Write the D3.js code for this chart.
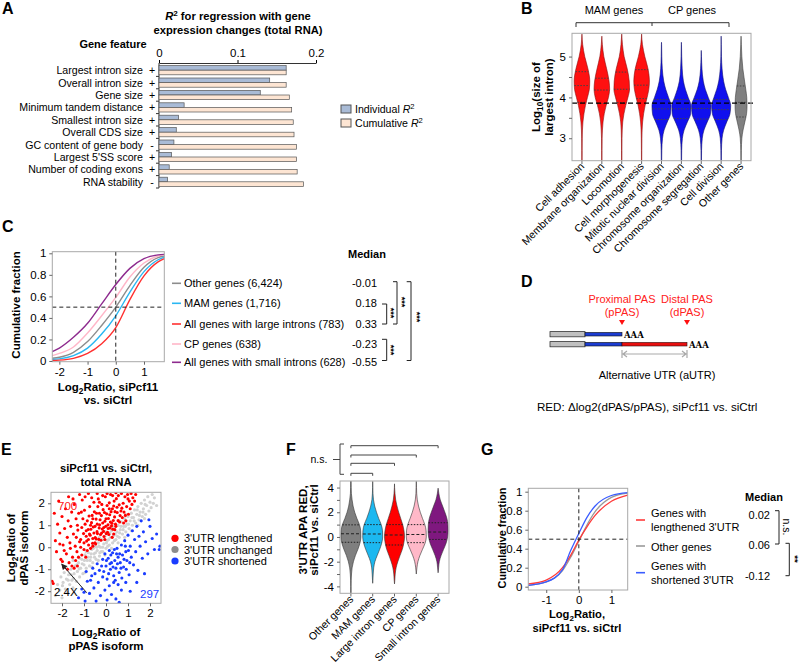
<!DOCTYPE html>
<html><head><meta charset="utf-8">
<script src="https://cdn.jsdelivr.net/npm/d3@7"></script>
<style>
body{margin:0;background:#fff;}
svg{font-family:"Liberation Sans",Arial,sans-serif;}
</style></head><body>
<svg id="fig" width="800" height="663"></svg>
<script>
// ================= DATA =================
// Panel A
const featA = ["Largest intron size","Overall intron size","Gene size","Minimum tandem distance","Smallest intron size","Overall CDS size","GC content of gene body","Largest 5'SS score","Number of coding exons","RNA stability"];
const signA = ["+","+","+","+","+","+","-","+","+","-"];
const indivA = [0.162,0.141,0.129,0.032,0.025,0.022,0.019,0.016,0.013,0.011];
const cumA = [0.162,0.162,0.166,0.169,0.171,0.172,0.175,0.175,0.176,0.184];
const ticksA = [0,0.1,0.2];

// Panel B
const catB = ["Cell adhesion","Membrane organization","Locomotion","Cell morphogenesis","Mitotic nuclear division","Chromosome organization","Chromosome segregation","Cell division","Other genes"];
const groupB = ["MAM","MAM","MAM","MAM","CP","CP","CP","CP","Other"];
const levelsB = [5.3,5.0,4.7,4.4,4.2,4.0,3.8,3.6,3.4,3.2,3.0,2.7,2.45];
const topB = [5.55,5.5,5.55,5.55,5.35,5.35,5.15,5.5,5.5];
const densB = [
 [0.07,0.28,0.6,0.78,0.74,0.55,0.35,0.2,0.1,0.05,0.03,0.02,0.015],
 [0.05,0.2,0.48,0.72,0.78,0.66,0.43,0.24,0.12,0.06,0.03,0.02,0.015],
 [0.07,0.24,0.55,0.75,0.78,0.62,0.4,0.22,0.1,0.05,0.03,0.02,0.015],
 [0.08,0.32,0.64,0.78,0.72,0.55,0.35,0.2,0.1,0.05,0.03,0.02,0.015],
 [0.01,0.03,0.08,0.22,0.42,0.7,0.95,0.9,0.58,0.26,0.1,0.03,0.02],
 [0.01,0.03,0.08,0.2,0.4,0.68,0.95,0.92,0.6,0.27,0.1,0.03,0.02],
 [0.0,0.02,0.07,0.2,0.4,0.7,0.97,0.92,0.6,0.27,0.1,0.03,0.02],
 [0.01,0.03,0.09,0.24,0.44,0.72,0.95,0.88,0.56,0.25,0.09,0.03,0.02],
 [0.03,0.08,0.18,0.35,0.47,0.57,0.6,0.55,0.38,0.2,0.08,0.03,0.02]
];
const quartB = [[3.88,4.29,4.63],[3.85,4.18,4.47],[3.87,4.2,4.62],[3.97,4.3,4.68],[3.46,3.72,3.95],[3.48,3.72,3.95],[3.47,3.73,3.95],[3.46,3.70,3.95],[3.52,3.88,4.28]];
const refB = 3.86;
const ticksB = [3,4,5];

// Panel C
const xGridC = [-2.25,-2,-1.5,-1,-0.5,0,0.5,1,1.5,1.72];
const seriesC = ["Other genes (6,424)","MAM genes (1,716)","All genes with large introns (783)","CP genes (638)","All genes with small introns (628)"];
const cdfC = [
 [0.025,0.035,0.08,0.18,0.33,0.5,0.7,0.87,0.96,0.975],
 [0.015,0.02,0.05,0.12,0.25,0.42,0.64,0.83,0.94,0.965],
 [0.005,0.008,0.025,0.07,0.16,0.31,0.57,0.79,0.92,0.95],
 [0.05,0.07,0.13,0.26,0.42,0.59,0.78,0.91,0.975,0.985],
 [0.087,0.12,0.22,0.35,0.53,0.71,0.86,0.95,0.985,0.99]
];
const medianC = ["-0.01","0.18","0.33","-0.23","-0.55"];
const ticksCx = [-2,-1,0,1];
const ticksCy = [0,0.2,0.4,0.6,0.8,1];

// Panel E
const ePtsGray = [[-2.3,-2.2],[-2.2,-1.7],[-2.1,-1.95],[-2.05,-1.35],[-2.0,-2.3],[-1.95,-1.6],[-1.9,-1.15],[-1.85,-1.9],[-1.8,-1.45],[-1.75,-2.05],[-1.7,-1.25],[-1.65,-1.7],[-1.6,-1.0],[-1.55,-1.5],[-1.5,-1.85],[-1.45,-1.2],[-1.4,-0.85],[-1.35,-1.55],[-1.3,-1.1],[-1.25,-0.7],[-1.2,-1.35],[-1.15,-0.95],[-1.1,-0.55],[-1.05,-1.2],[-1.0,-0.8],[-0.95,-0.35],[-0.9,-0.95],[-0.85,-0.6],[-0.8,-0.25],[-0.75,-0.85],[-0.7,-0.45],[-0.65,-0.1],[-0.6,-0.7],[-0.55,-0.3],[-0.5,0.05],[-0.45,-0.55],[-0.4,-0.15],[-0.35,0.2],[-0.3,-0.4],[-0.25,0.0],[-0.2,0.35],[-0.15,-0.2],[-0.1,0.15],[-0.05,0.5],[0.0,-0.05],[0.05,0.3],[0.1,0.6],[0.15,0.1],[0.2,0.45],[0.25,0.75],[0.3,0.2],[0.35,0.55],[0.4,0.9],[0.45,0.35],[0.5,0.7],[0.55,1.0],[0.6,0.45],[0.65,0.8],[0.7,1.15],[0.75,0.6],[0.8,0.95],[0.85,1.3],[0.9,0.7],[0.95,1.05],[1.0,1.4],[1.05,0.85],[1.1,1.2],[1.15,1.55],[1.2,1.0],[1.25,1.35],[1.3,1.7],[1.35,1.1],[1.4,1.5],[1.45,1.85],[1.5,1.25],[1.55,1.6],[1.6,2.0],[1.65,1.4],[1.7,1.75],[1.75,2.15],[1.8,1.5],[1.85,1.9],[1.9,2.3],[1.95,1.65],[2.0,2.05],[2.05,1.8],[2.1,2.4],[2.15,2.0],[2.2,2.25],[2.3,1.9],
 [-1.98,-1.75],[-1.72,-1.5],[-1.48,-1.42],[-1.22,-0.98],[-0.98,-0.6],[-0.72,-0.6],[-0.48,-0.25],[-0.22,-0.2],[0.02,0.2],[0.28,0.45],[0.52,0.5],[0.78,0.8],[1.02,1.05],[1.28,1.2],[1.52,1.45],[1.78,1.95],[-1.58,-1.25],[-1.32,-0.8],[-1.08,-0.75],[-0.82,-0.45],[-0.58,-0.05],[-0.32,0.05],[-0.08,0.35],[0.18,0.65],[0.42,0.6],[0.68,0.95],[0.92,1.2],[1.18,1.35],[1.42,1.7],[1.68,1.6],[-0.9,-0.2],[-0.6,0.15],[-0.3,0.45],[0.0,0.7],[0.3,0.95],[0.6,1.2],[0.9,1.5],[-1.2,-0.5],[-0.95,-1.15],[-0.65,-0.9],[-0.35,-0.6],[-0.05,-0.35],[0.25,-0.05],[0.55,0.2],[0.85,0.45],[1.15,0.75],[1.45,1.0],[1.75,1.3],[-1.8,-0.9],[-1.5,-0.6],[-0.15,0.0],[0.12,0.35],[0.38,0.3],[0.62,0.65],[0.88,0.95],[-0.42,0.0],[-0.68,-0.3],[-0.28,-0.25],[0.08,0.05],[-0.52,-0.45]];
const ePtsRed = [[-1.15,0.35],[-1.02,0.62],[-0.95,1.05],[-0.88,0.28],[-0.81,0.81],[-0.77,1.42],[-0.72,0.55],[-0.66,1.12],[-0.61,0.18],[-0.58,0.92],[-0.53,1.61],[-0.49,0.44],[-0.45,1.28],[-0.41,0.71],[-0.37,1.85],[-0.33,0.36],[-0.29,1.02],[-0.25,0.58],[-0.21,1.44],[-0.17,0.83],[-0.13,1.71],[-0.09,0.49],[-0.05,1.18],[-0.01,0.95],[0.03,1.52],[0.07,0.68],[0.11,1.31],[0.15,2.02],[0.19,0.88],[0.23,1.62],[0.27,1.09],[0.31,0.82],[0.35,1.88],[0.39,1.38],[0.43,1.05],[0.47,2.21],[0.51,1.58],[0.55,1.21],[0.6,1.93],[0.64,1.44],
 [-1.1,0.9],[-1.05,1.3],[-0.98,1.68],[-0.9,0.5],[-0.85,1.2],[-0.79,0.1],[-0.74,1.85],[-0.69,0.82],[-0.63,1.45],[-0.6,0.4],[-0.55,2.05],[-0.5,0.95],[-0.47,0.15],[-0.43,1.55],[-0.39,0.62],[-0.35,2.2],[-0.31,0.88],[-0.27,1.25],[-0.23,0.32],[-0.19,1.95],[-0.15,1.1],[-0.11,0.72],[-0.07,1.58],[-0.03,2.3],[0.01,0.62],[0.05,1.9],[0.09,1.02],[0.13,0.58],[0.17,1.48],[0.21,2.4],[0.25,0.98],[0.29,1.75],[0.33,1.22],[0.37,2.1],[0.41,1.62],[0.45,0.95],[0.5,1.82],[0.56,2.35],[0.62,1.15],[0.68,1.65],
 [-2.35,1.55],[-2.3,0.3],[-2.25,-0.2],[-2.2,1.05],[-2.15,2.1],[-2.1,0.65],[-2.05,-0.55],[-2.0,1.4],[-1.95,0.1],[-1.92,-0.9],[-1.88,0.85],[-1.84,1.75],[-1.8,-0.3],[-1.76,0.45],[-1.72,1.2],[-1.68,-0.7],[-1.64,0.2],[-1.6,0.95],[-1.56,1.6],[-1.52,-0.45],[-1.48,0.6],[-1.44,1.95],[-1.4,0.05],[-1.36,1.3],[-1.32,-0.2],[-1.28,0.78],[-1.24,1.55],[-1.2,0.25],[-1.7,2.3],[-1.5,2.2],[-2.45,-1.55],[-2.4,-1.65],[-1.98,-0.65],[-1.62,-0.05],[-1.35,0.45],[-1.3,1.0],[-1.25,-0.45],[-1.15,0.0],[-1.12,1.6],[-1.08,2.15],
 [0.7,2.45],[0.74,1.35],[0.78,2.0],[0.82,1.6],[0.86,2.3],[0.9,1.2],[0.94,1.85],[0.98,2.4],[1.02,1.5],[1.06,2.1],[1.1,1.75],[1.14,2.45],[1.18,1.95],[1.22,2.25],[1.3,2.1],[1.35,2.4],[0.88,1.45],[0.72,1.78],[1.0,2.2],[0.8,1.1],
 [-0.95,2.3],[-0.8,2.45],[-0.65,2.25],[-0.4,2.45],[-0.15,2.35],[0.05,2.45],[0.3,2.35],[0.45,2.48],[-1.2,2.4],[-0.3,2.05],
 [-1.55,-0.85],[-1.45,-0.95],[-1.38,-0.6],[-1.1,-0.35],[-1.0,-0.1],[-0.92,-0.45],[-0.85,-0.15],[-0.7,-0.05],[-0.6,0.05],[-0.5,0.2],[-1.3,-0.85],[-1.75,-1.0],[-1.9,-0.15],[-2.1,0.15],
 [-0.9,0.75],[-0.7,1.0],[-0.55,0.65],[-0.4,1.05],[-0.2,0.65],[-0.1,0.9],[0.0,1.3],[0.1,0.85],[0.2,1.15],[0.35,0.6],[-0.6,1.3],[-0.3,1.55],[0.15,1.75],[-0.8,0.35],[-0.45,0.38],[-0.05,0.35],[0.28,0.45],[0.4,0.8],[-1.0,0.2],[-0.75,0.6]];
const ePtsBlue = [[-0.15,-0.55],[-0.1,-1.1],[-0.05,-0.3],[0.0,-0.85],[0.05,-1.45],[0.1,-0.5],[0.15,-0.15],[0.2,-1.0],[0.25,-0.7],[0.3,-0.25],[0.35,-1.3],[0.4,-0.6],[0.45,-0.95],[0.5,-0.05],[0.55,-0.45],[0.6,-1.15],[0.65,-0.7],[0.7,0.1],[0.75,-0.35],[0.8,-0.9],[0.85,0.3],[0.9,-0.2],[0.95,-0.6],[1.0,0.55],[1.05,-1.25],[1.1,0.05],[1.15,-0.45],[1.2,0.75],[1.25,-0.8],[1.3,0.35],
 [1.35,-0.2],[1.4,0.95],[1.45,-1.05],[1.5,0.5],[1.55,0.05],[1.6,1.2],[1.65,-0.5],[1.7,0.7],[1.8,0.25],[1.9,-0.3],[2.0,0.95],[2.1,0.4],[2.2,-0.1],[2.45,0.05],[2.42,-0.1],[1.75,-1.2],[1.95,1.25],[2.3,0.6],
 [-1.25,-2.3],[-1.1,-1.9],[-0.95,-2.45],[-0.85,-1.55],[-0.75,-2.1],[-0.65,-1.3],[-0.55,-1.85],[-0.45,-2.45],[-0.35,-1.6],[-0.25,-2.2],[-0.15,-1.35],[-0.05,-1.95],[0.05,-2.4],[0.15,-1.75],[0.25,-2.15],[0.35,-1.6],[0.45,-2.35],[0.55,-1.7],[0.7,-1.95],[0.9,-1.6],[1.1,-2.0],[1.4,-1.6],[-1.0,-2.05],[0.6,-2.5],
 [-0.6,-0.95],[-0.5,-1.2],[-0.4,-0.75],[-0.3,-1.05],[-0.2,-0.85],[0.02,-0.6],[0.12,-1.2],[0.22,-0.35],[0.32,-0.9],[0.42,-1.5],[0.52,-0.75],[0.62,-0.3],[0.72,-1.4],[0.82,-0.55],[0.92,-1.0],[1.02,-0.15],[0.38,-0.1],[0.18,-0.75],[0.68,-0.95],[0.48,-0.3],[1.08,-0.7],[0.88,0.05],[-0.7,-1.5],[-0.9,-1.1]];
const ticksE = [-2,-1,0,1,2];
const legendE = ["3'UTR lengthened","3'UTR unchanged","3'UTR shortened"];

// Panel F
const catF = ["Other genes","MAM genes","Large intron genes","CP genes","Small intron genes"];
const levelsF = [4.5,4,3.5,3,2.5,2,1.5,1,0.5,0,-0.5,-1,-1.5,-2,-2.5,-3,-3.5,-4,-4.5];
const extentF = [[-4.56,4.53],[-3.75,4.5],[-3.8,4.3],[-3.0,4.5],[-2.9,3.95]];
const densF = [
 [0.02,0.03,0.05,0.12,0.22,0.38,0.6,0.85,0.98,1.0,0.9,0.7,0.45,0.25,0.12,0.06,0.03,0.02,0.02],
 [0.01,0.01,0.03,0.08,0.2,0.38,0.6,0.85,0.98,1.0,0.9,0.7,0.45,0.22,0.1,0.05,0.02,0.01,0],
 [0,0.01,0.05,0.12,0.25,0.42,0.62,0.82,0.95,1.0,0.93,0.78,0.55,0.33,0.16,0.07,0.03,0.01,0],
 [0.01,0.02,0.04,0.1,0.22,0.4,0.62,0.85,0.98,1.0,0.88,0.62,0.36,0.16,0.06,0.02,0,0,0],
 [0,0.02,0.08,0.22,0.45,0.68,0.88,0.98,1.0,0.95,0.8,0.55,0.3,0.12,0.05,0.02,0,0,0]
];
const quartF = [[-0.43,0.26,0.98],[-0.46,0.24,1.0],[-0.65,0.16,1.0],[-0.46,0.2,1.0],[-0.2,0.4,1.15]];
const ticksF = [-4,-2,0,2,4];

// Panel G
const xGridG = [-1.55,-1,-0.5,-0.25,0,0.25,0.5,1,1.5];
const seriesG = [["Genes with","lengthened 3'UTR"],["Other genes"],["Genes with","shortened 3'UTR"]];
const cdfG = [
 [0.03,0.07,0.2,0.33,0.49,0.63,0.75,0.9,0.965],
 [0.015,0.05,0.17,0.31,0.48,0.65,0.79,0.94,0.985],
 [0.015,0.05,0.18,0.38,0.56,0.73,0.85,0.96,0.99]
];
const medianG = ["0.02","0.06","-0.12"];
const ticksGx = [-1,0,1];
const ticksGy = [0,0.2,0.4,0.6,0.8,1];

// ================= DRAWING =================
const svg = d3.select("#fig");
const FRAME = "#a8a8a8";
const fmt = d => String(d);

function rich(g, x, y, parts, attrs){
  const t = g.append("text").attr("x",x).attr("y",y);
  for (const k in (attrs||{})) t.attr(k, attrs[k]);
  let shift = 0;
  parts.forEach(p=>{
    const [s, st] = Array.isArray(p)?p:[p,null];
    const ts = t.append("tspan").text(s);
    const target = st==="sub"?3:(st==="sup"?-4.5:0);
    if (target!==shift){ ts.attr("dy", target-shift); shift = target; }
    if (st==="sub"||st==="sup") ts.attr("font-size","0.72em");
    if (st==="it") ts.attr("font-style","italic");
  });
  return t;
}
function label(t,x,y){ svg.append("text").attr("x",x).attr("y",y).attr("font-size",16).attr("font-weight","bold").text(t); }
function styleAxis(g, fs){
  g.attr("font-family",null).attr("font-size",null);
  g.selectAll(".domain").remove();
  g.selectAll(".tick line").attr("stroke","#666");
  g.selectAll("text").attr("fill","#000").attr("font-size",fs||11.5);
}
function frame(g,x0,y0,x1,y1){ g.append("rect").attr("x",x0).attr("y",y0).attr("width",x1-x0).attr("height",y1-y0).attr("fill","none").attr("stroke",FRAME); }
function interp(levels, dens, v){
  for (let i=0;i<levels.length-1;i++){
    const a=levels[i], b=levels[i+1];
    if ((v<=a && v>=b) || (v>=a && v<=b)){ const t=(v-a)/(b-a); return dens[i]+(dens[i+1]-dens[i])*t; }
  }
  return 0;
}

// ---------- Panel A ----------
label("A",2,14);
const gA = svg.append("g").attr("font-size",10.6);
const xA = d3.scaleLinear().domain([0,0.2]).range([159,316]);
const yA = d3.scaleBand().domain(featA).range([64,188]);
rich(gA,238,20,[["R","it"],["2","sup"]," for regression with gene"],{"text-anchor":"middle","font-weight":"bold","font-size":11.2});
gA.append("text").attr("x",238).attr("y",34).attr("text-anchor","middle").attr("font-weight","bold").attr("font-size",11.2).text("expression changes (total RNA)");
gA.append("text").attr("x",113).attr("y",48).attr("text-anchor","middle").attr("font-weight","bold").attr("font-size",11).text("Gene feature");
const axA = gA.append("g").attr("transform","translate(0,63)").call(d3.axisTop(xA).tickValues(ticksA).tickFormat(d=>d===0?"0":d3.format(".1f")(d)).tickSize(3).tickSizeOuter(0));
axA.attr("font-family",null).attr("font-size",null);
axA.selectAll(".domain").attr("stroke","#333"); axA.selectAll("text").attr("font-size",11.5).attr("fill","#000");
gA.append("line").attr("x1",159).attr("x2",159).attr("y1",63).attr("y2",188).attr("stroke","#333");
featA.forEach((f,i)=>{
  const c = yA(f)+yA.bandwidth()/2;
  gA.append("line").attr("x1",156).attr("x2",159).attr("y1",yA(f)+yA.bandwidth()).attr("y2",yA(f)+yA.bandwidth()).attr("stroke","#333");
  gA.append("rect").attr("x",xA(0)).attr("y",c-4.6).attr("width",xA(indivA[i])-xA(0)).attr("height",4.6).attr("fill","#a9bbd6").attr("stroke","#555").attr("stroke-width",0.7);
  gA.append("rect").attr("x",xA(0)).attr("y",c).attr("width",xA(cumA[i])-xA(0)).attr("height",4.6).attr("fill","#fde5d3").attr("stroke","#555").attr("stroke-width",0.7);
  gA.append("text").attr("x",143).attr("y",c+4).attr("text-anchor","end").text(f);
  gA.append("text").attr("x",152).attr("y",c+4).attr("text-anchor","middle").text(signA[i]);
});
gA.append("rect").attr("x",341).attr("y",105).attr("width",10).attr("height",8).attr("fill","#a9bbd6").attr("stroke","#555");
gA.append("rect").attr("x",341).attr("y",119).attr("width",10).attr("height",8).attr("fill","#fde5d3").attr("stroke","#555");
rich(gA,355,113,["Individual ",["R","it"],["2","sup"]],{});
rich(gA,355,127,["Cumulative ",["R","it"],["2","sup"]],{});

// ---------- Panel B ----------
label("B",521,14);
const gB = svg.append("g").attr("font-size",11.5);
const xB = d3.scaleBand().domain(catB).range([572,751]);
const yB = d3.scaleLinear().domain([2.45,5.57]).range([160.7,33.3]);
const wB = d3.scaleLinear().domain([0,1]).range([0,10]);
const colB = {MAM:"#ff1010",CP:"#1010ee",Other:"#808080"};
const edgeB = {MAM:"#8a1010",CP:"#101070",Other:"#404040"};
gB.append("defs").append("clipPath").attr("id","clipB").append("rect").attr("x",572).attr("y",33.3).attr("width",179).attr("height",127.4);
const vB = gB.append("g").attr("clip-path","url(#clipB)");
catB.forEach((c,i)=>{
  const cx = xB(c)+xB.bandwidth()/2;
  const pts = [{v:topB[i],d:0}].concat(levelsB.map((l,j)=>({v:l,d:densB[i][j]})).filter(p=>p.v<topB[i]));
  const area = d3.area().y(d=>yB(d.v)).x0(d=>cx-wB(d.d)).x1(d=>cx+wB(d.d)).curve(d3.curveMonotoneY);
  vB.append("path").attr("d",area(pts)).attr("fill",colB[groupB[i]]).attr("stroke",edgeB[groupB[i]]).attr("stroke-width",0.6);
  quartB[i].forEach(q=>{
    const w = wB(interp(pts.map(p=>p.v), pts.map(p=>p.d), q));
    vB.append("line").attr("x1",cx-w).attr("x2",cx+w).attr("y1",yB(q)).attr("y2",yB(q)).attr("stroke","#444").attr("stroke-width",1).attr("stroke-dasharray","1.5,1.5");
  });
  gB.append("line").attr("x1",cx).attr("x2",cx).attr("y1",160.7).attr("y2",164).attr("stroke","#666");
  gB.append("text").attr("transform",`translate(${cx+3},${167}) rotate(-45)`).attr("text-anchor","end").attr("font-size",10.6).text(c);
});
gB.append("line").attr("x1",572).attr("x2",753).attr("y1",yB(refB)).attr("y2",yB(refB)).attr("stroke","#000").attr("stroke-width",1.3).attr("stroke-dasharray","5,3");
frame(gB,572,33.3,751,160.7);
const axB = gB.append("g").attr("transform","translate(572,0)").call(d3.axisLeft(yB).tickValues([3,3.5,4,4.5,5]).tickFormat(d=>ticksB.includes(d)?d:"").tickSize(3).tickSizeOuter(0));
styleAxis(axB, 11.5);
rich(gB,0,0,["Log",["10","sub"],"(size of"],{"transform":"translate(540,97) rotate(-90)","text-anchor":"middle","font-weight":"bold","font-size":11.5});
gB.append("text").attr("transform","translate(553,97) rotate(-90)").attr("text-anchor","middle").attr("font-weight","bold").attr("font-size",11.5).text("largest intron)");
gB.append("path").attr("d","M576,27 V22.7 H729 V27 M652,22.7 V26").attr("fill","none").attr("stroke","#333");
gB.append("text").attr("x",614).attr("y",14).attr("text-anchor","middle").attr("font-size",11).text("MAM genes");
gB.append("text").attr("x",692).attr("y",14).attr("text-anchor","middle").attr("font-size",11).text("CP genes");

// ---------- Panel C ----------
label("C",2,232);
const gC = svg.append("g").attr("font-size",11);
const xC = d3.scaleLinear().domain([-2.25,1.72]).range([52.3,164.3]);
const yC = d3.scaleLinear().domain([0,1]).range([361,253.3]);
const colC = ["#8c8c8c","#2ab7f2","#ff3030","#ffb6c8","#8e2a8e"];
const lineC = d3.line().x((d,i)=>xC(xGridC[i])).y(d=>yC(d)).curve(d3.curveMonotoneX);
cdfC.forEach((s,i)=> gC.append("path").attr("d",lineC(s)).attr("fill","none").attr("stroke",colC[i]).attr("stroke-width",1.4));
gC.append("line").attr("x1",xC(0)).attr("x2",xC(0)).attr("y1",251.7).attr("y2",361.7).attr("stroke","#222").attr("stroke-dasharray","4,3");
gC.append("line").attr("x1",52.3).attr("x2",164.3).attr("y1",yC(0.5)).attr("y2",yC(0.5)).attr("stroke","#222").attr("stroke-dasharray","4,3");
frame(gC,52.3,251.7,164.3,361.7);
const axCx = gC.append("g").attr("transform","translate(0,361.7)").call(d3.axisBottom(xC).tickValues(ticksCx).tickFormat(fmt).tickSize(3).tickSizeOuter(0));
styleAxis(axCx, 11.5);
const axCy = gC.append("g").attr("transform","translate(52.3,0)").call(d3.axisLeft(yC).tickValues(ticksCy).tickFormat(fmt).tickSize(3).tickSizeOuter(0));
styleAxis(axCy, 11.5);
gC.append("text").attr("transform","translate(20,305) rotate(-90)").attr("text-anchor","middle").attr("font-weight","bold").attr("font-size",11.5).text("Cumulative fraction");
rich(gC,108,391,["Log",["2","sub"],"Ratio, siPcf11"],{"text-anchor":"middle","font-weight":"bold","font-size":11.5});
gC.append("text").attr("x",108).attr("y",404).attr("text-anchor","middle").attr("font-weight","bold").attr("font-size",11.5).text("vs. siCtrl");
const legYC = [283.3,303.3,324,344,362.3];
seriesC.forEach((s,i)=>{
  gC.append("line").attr("x1",172).attr("x2",181).attr("y1",legYC[i]).attr("y2",legYC[i]).attr("stroke",colC[i]).attr("stroke-width",1.6);
  gC.append("text").attr("x",184).attr("y",legYC[i]+4).text(s);
  gC.append("text").attr("x",377).attr("y",legYC[i]+4).attr("text-anchor","end").text(medianC[i]);
});
gC.append("text").attr("x",367).attr("y",258).attr("text-anchor","middle").attr("font-weight","bold").attr("font-size",11).text("Median");
const brC = gC.append("g").attr("fill","none").attr("stroke","#222").attr("stroke-width",1);
brC.append("path").attr("d","M382,304 H386.7 V324 H382");
brC.append("path").attr("d","M393,281.7 H397 V324 H393");
brC.append("path").attr("d","M406.7,281.7 H411 V360.5 H406.7");
brC.append("path").attr("d","M382,339.3 H386.7 V360.5 H382");
[[390,313],[401.5,302],[416.5,317],[390,350]].forEach(([x,y])=>{
  gC.append("text").attr("transform",`translate(${x-2.5},${y}) rotate(90)`).attr("text-anchor","middle").attr("font-size",9).attr("font-weight","bold").text("***");
});

// ---------- Panel D ----------
label("D",521,287);
const gD = svg.append("g").attr("font-size",11);
gD.append("text").attr("x",622).attr("y",303).attr("text-anchor","middle").attr("fill","#ff2020").text("Proximal PAS");
gD.append("text").attr("x",622).attr("y",316).attr("text-anchor","middle").attr("fill","#ff2020").text("(pPAS)");
gD.append("text").attr("x",687).attr("y",303).attr("text-anchor","middle").attr("fill","#ff2020").text("Distal PAS");
gD.append("text").attr("x",687).attr("y",316).attr("text-anchor","middle").attr("fill","#ff2020").text("(dPAS)");
[622,687].forEach(x=> gD.append("path").attr("d",`M${x-3},320 L${x+3},320 L${x},325 Z`).attr("fill","#ff1010"));
[334.2,344.2].forEach((cy,r)=>{
  gD.append("rect").attr("x",550).attr("y",cy-2.6).attr("width",35).attr("height",5.2).attr("fill","#c0c0c0").attr("stroke","#333").attr("stroke-width",0.8);
  gD.append("rect").attr("x",585).attr("y",cy-1.8).attr("width",37).attr("height",3.6).attr("fill","#1c3cd0").attr("stroke","#111").attr("stroke-width",0.6);
  if (r===1) gD.append("rect").attr("x",622).attr("y",cy-1.8).attr("width",65).attr("height",3.6).attr("fill","#e81010").attr("stroke","#311").attr("stroke-width",0.6);
  gD.append("text").attr("x",r===0?624:689).attr("y",cy+3.5).attr("font-family","DejaVu Serif, serif").attr("font-weight","bold").attr("font-size",8.5).text("AAA");
});
gD.append("path").attr("d","M622,350 V358 M687,350 V358 M623,354 H686 M627,351 L623,354 L627,357 M682,351 L686,354 L682,357").attr("fill","none").attr("stroke","#aaa").attr("stroke-width",1.2);
gD.append("text").attr("x",657).attr("y",379).attr("text-anchor","middle").text("Alternative UTR (aUTR)");
gD.append("text").attr("x",537).attr("y",411).attr("font-size",11.6).text("RED: \u0394log2(dPAS/pPAS), siPcf11 vs. siCtrl");

// ---------- Panel E ----------
label("E",1,455);
const gE = svg.append("g").attr("font-size",11.5);
const xE = d3.scaleLinear().domain([-2.5,2.5]).range([51,161]);
const yE = d3.scaleLinear().domain([-2.55,2.5]).range([603.3,492.3]);
gE.append("defs").append("clipPath").attr("id","clipE").append("rect").attr("x",51).attr("y",492.3).attr("width",110).attr("height",111);
const pE = gE.append("g").attr("clip-path","url(#clipE)");
pE.selectAll(".g").data(ePtsGray).join("circle").attr("cx",d=>xE(d[0])).attr("cy",d=>yE(d[1])).attr("r",1.6).attr("fill","#d2d2d2");
pE.selectAll(".r").data(ePtsRed).join("circle").attr("cx",d=>xE(d[0])).attr("cy",d=>yE(d[1])).attr("r",1.55).attr("fill","#ff0000");
pE.selectAll(".b").data(ePtsBlue).join("circle").attr("cx",d=>xE(d[0])).attr("cy",d=>yE(d[1])).attr("r",1.55).attr("fill","#1a3cff");
frame(gE,51,492.3,161,603.3);
const axEx = gE.append("g").attr("transform","translate(0,603.3)").call(d3.axisBottom(xE).tickValues(ticksE).tickFormat(fmt).tickSize(3).tickSizeOuter(0));
styleAxis(axEx, 11.5);
const axEy = gE.append("g").attr("transform","translate(51,0)").call(d3.axisLeft(yE).tickValues(ticksE).tickFormat(fmt).tickSize(3).tickSizeOuter(0));
styleAxis(axEy, 11.5);
gE.append("text").attr("x",106).attr("y",472).attr("text-anchor","middle").attr("font-weight","bold").attr("font-size",11.2).text("siPcf11 vs. siCtrl,");
gE.append("text").attr("x",106).attr("y",486).attr("text-anchor","middle").attr("font-weight","bold").attr("font-size",11.2).text("total RNA");
gE.append("text").attr("x",58).attr("y",510).attr("fill","#ff2020").text("700");
gE.append("text").attr("x",140).attr("y",598).attr("fill","#1a3cff").text("297");
gE.append("defs").append("marker").attr("id","arrE").attr("viewBox","0 0 10 10").attr("refX",8).attr("refY",5).attr("markerWidth",6).attr("markerHeight",6).attr("orient","auto").append("path").attr("d","M0,0 L10,5 L0,10 Z").attr("fill","#222");
gE.append("line").attr("x1",86.7).attr("y1",592.7).attr("x2",62).attr("y2",564.5).attr("stroke","#222").attr("stroke-width",1).attr("marker-end","url(#arrE)");
gE.append("text").attr("x",54).attr("y",596).text("2.4X");
rich(gE,0,0,["Log",["2","sub"],"Ratio of"],{"transform":"translate(15,548) rotate(-90)","text-anchor":"middle","font-weight":"bold","font-size":11.5});
gE.append("text").attr("transform","translate(28,548) rotate(-90)").attr("text-anchor","middle").attr("font-weight","bold").attr("font-size",11.5).text("dPAS isoform");
rich(gE,106,636,["Log",["2","sub"],"Ratio of"],{"text-anchor":"middle","font-weight":"bold","font-size":11.5});
gE.append("text").attr("x",106).attr("y",650).attr("text-anchor","middle").attr("font-weight","bold").attr("font-size",11.5).text("pPAS isoform");
const colE = ["#ff0000","#8c8c8c","#1a3cff"];
[538.3,549.5,561].forEach((y,i)=>{
  gE.append("circle").attr("cx",175).attr("cy",y).attr("r",3.6).attr("fill",colE[i]);
  gE.append("text").attr("x",184).attr("y",y+4).attr("font-size",11).text(legendE[i]);
});

// ---------- Panel F ----------
label("F",286,455);
const gF = svg.append("g").attr("font-size",11.5);
const xF = d3.scaleBand().domain(catF).range([340,449]);
const yF = d3.scaleLinear().domain([-4.56,4.53]).range([593.3,481]);
const wF = d3.scaleLinear().domain([0,1]).range([0,10]);
const colF = ["#7f7f7f","#1cb8f0","#ff0000","#ffb8c8","#7f187f"];
gF.append("defs").append("clipPath").attr("id","clipF").append("rect").attr("x",340).attr("y",481).attr("width",109).attr("height",112.3);
const vF = gF.append("g").attr("clip-path","url(#clipF)");
catF.forEach((c,i)=>{
  const cx = xF(c)+xF.bandwidth()/2;
  const [lo,hi] = extentF[i];
  const pts = [{v:hi,d:0}].concat(levelsF.map((l,j)=>({v:l,d:densF[i][j]})).filter(p=>p.v<hi && p.v>lo)).concat([{v:lo,d:0}]);
  const area = d3.area().y(d=>yF(d.v)).x0(d=>cx-wF(d.d)).x1(d=>cx+wF(d.d)).curve(d3.curveMonotoneY);
  vF.append("path").attr("d",area(pts)).attr("fill",colF[i]).attr("stroke","#333").attr("stroke-width",0.6);
  quartF[i].forEach((q,k)=>{
    const w = wF(interp(levelsF,densF[i],q));
    vF.append("line").attr("x1",cx-w).attr("x2",cx+w).attr("y1",yF(q)).attr("y2",yF(q)).attr("stroke","#222").attr("stroke-width",1).attr("stroke-dasharray",k===1?"3,2":"1.5,1.5");
  });
  gF.append("line").attr("x1",cx).attr("x2",cx).attr("y1",593.3).attr("y2",596.5).attr("stroke","#666");
  gF.append("text").attr("transform",`translate(${cx+3},${600}) rotate(-45)`).attr("text-anchor","end").attr("font-size",10.6).text(c);
});
frame(gF,340,481,449,593.3);
const axF = gF.append("g").attr("transform","translate(340,0)").call(d3.axisLeft(yF).tickValues([-4,-3,-2,-1,0,1,2,3,4]).tickFormat(d=>ticksF.includes(d)?String(d):"").tickSize(3).tickSizeOuter(0));
styleAxis(axF, 11.5);
gF.append("text").attr("transform","translate(307,530) rotate(-90)").attr("text-anchor","middle").attr("font-weight","bold").attr("font-size",11.5).text("3'UTR APA RED,");
gF.append("text").attr("transform","translate(318,530) rotate(-90)").attr("text-anchor","middle").attr("font-weight","bold").attr("font-size",11.5).text("siPcf11 vs. siCtrl");
const brF = gF.append("g").attr("fill","none").attr("stroke","#444").attr("stroke-width",1);
brF.append("path").attr("d","M344,444 H340 V474.3 H344 M333,459.5 H340");
gF.append("text").attr("x",319).attr("y",463).attr("text-anchor","middle").attr("font-size",10.5).text("n.s.");
const cx0 = xF(catF[0])+xF.bandwidth()/2;
[473.3,463.3,455,445.7].forEach((y,k)=>{
  const cx1 = xF(catF[k+1])+xF.bandwidth()/2;
  brF.append("path").attr("d",`M${cx0},${y+2.5} V${y} H${cx1} V${y+2.5}`);
});

// ---------- Panel G ----------
label("G",481,455);
const gG = svg.append("g").attr("font-size",11);
const xG = d3.scaleLinear().domain([-1.55,1.5]).range([528.3,627.7]);
const yG = d3.scaleLinear().domain([0,1]).range([586.7,491.7]);
const colG = ["#ff3a3a","#9a9a9a","#3a5cff"];
const lineG = d3.line().x((d,i)=>xG(xGridG[i])).y(d=>yG(d)).curve(d3.curveMonotoneX);
[1,0,2].forEach(i=> gG.append("path").attr("d",lineG(cdfG[i])).attr("fill","none").attr("stroke",colG[i]).attr("stroke-width",1.3));
gG.append("line").attr("x1",xG(0)).attr("x2",xG(0)).attr("y1",488.3).attr("y2",590).attr("stroke","#222").attr("stroke-dasharray","4,3");
gG.append("line").attr("x1",528.3).attr("x2",627.7).attr("y1",yG(0.5)).attr("y2",yG(0.5)).attr("stroke","#222").attr("stroke-dasharray","4,3");
frame(gG,528.3,488.3,627.7,590);
const axGx = gG.append("g").attr("transform","translate(0,590)").call(d3.axisBottom(xG).tickValues(ticksGx).tickFormat(fmt).tickSize(3).tickSizeOuter(0));
styleAxis(axGx, 11.5);
const axGy = gG.append("g").attr("transform","translate(528.3,0)").call(d3.axisLeft(yG).tickValues(ticksGy).tickFormat(fmt).tickSize(3).tickSizeOuter(0));
styleAxis(axGy, 11.5);
gG.append("text").attr("transform","translate(506,538) rotate(-90)").attr("text-anchor","middle").attr("font-weight","bold").attr("font-size",10.8).text("Cumulative fraction");
rich(gG,577,618,["Log",["2","sub"],"Ratio,"],{"text-anchor":"middle","font-weight":"bold","font-size":11.2});
gG.append("text").attr("x",577).attr("y",632).attr("text-anchor","middle").attr("font-weight","bold").attr("font-size",11.2).text("siPcf11 vs. siCtrl");
const legYG = [520,546,572.7];
seriesG.forEach((s,i)=>{
  gG.append("line").attr("x1",636).attr("x2",645).attr("y1",legYG[i]).attr("y2",legYG[i]).attr("stroke",colG[i]).attr("stroke-width",1.6);
  if (s.length===2){
    gG.append("text").attr("x",651).attr("y",legYG[i]-3).text(s[0]);
    gG.append("text").attr("x",651).attr("y",legYG[i]+11).text(s[1]);
  } else gG.append("text").attr("x",651).attr("y",legYG[i]+5).text(s[0]);
});
gG.append("text").attr("x",764).attr("y",501).attr("text-anchor","middle").attr("font-weight","bold").text("Median");
[515,545,575.7].forEach((y,i)=> gG.append("text").attr("x",770).attr("y",y+4).attr("text-anchor","end").text(medianG[i]));
const brG = gG.append("g").attr("fill","none").attr("stroke","#222").attr("stroke-width",1);
brG.append("path").attr("d","M775,510.7 H779 V544 H775");
brG.append("path").attr("d","M785.5,543.3 H789.3 V575.7 H785.5");
gG.append("text").attr("transform","translate(783,527) rotate(90)").attr("text-anchor","middle").attr("font-size",10.5).text("n.s.");
gG.append("text").attr("transform","translate(792,559) rotate(90)").attr("text-anchor","middle").attr("font-size",9.5).attr("font-weight","bold").text("**");
</script>
</body></html>
